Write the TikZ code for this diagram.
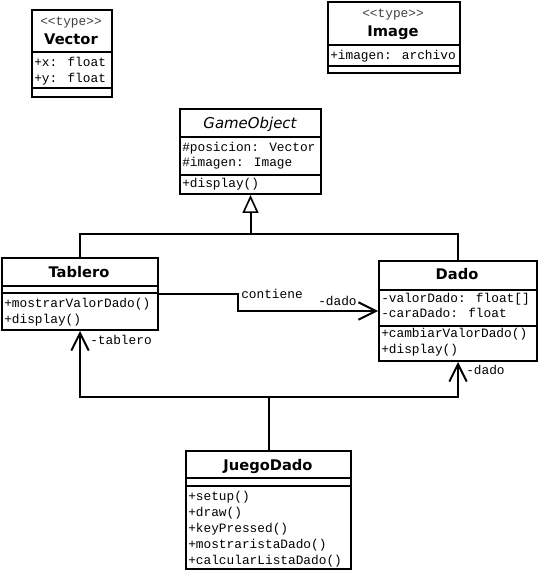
\documentclass[tikz,border=0pt]{standalone}
\usepackage{fontspec}
\setmainfont{DejaVu Sans}
\newfontfamily\monof{Liberation Mono}
\usetikzlibrary{arrows.meta}
\begin{document}
\begin{tikzpicture}[x=0.75pt,y=-0.75pt,
  cls/.style={draw, line width=1.5pt, inner sep=0pt, anchor=north west},
  divider/.style={line width=1.5pt},
  mono/.style={font=\monof\fontsize{9.6}{11}\selectfont, inner sep=0pt, anchor=west, text height=6.5pt, text depth=1.5pt},
  stereo/.style={mono, anchor=center, text=black!75},
  ctitle/.style={font=\bfseries\fontsize{11}{13}\selectfont, inner sep=0pt, anchor=center, text height=8pt, text depth=0pt},
  ititle/.style={font=\itshape\fontsize{11.2}{13}\selectfont, inner sep=0pt, anchor=center, text height=8.1pt, text depth=0pt},
  edge/.style={line width=1.5pt},
  assoc/.style={edge, -{Straight Barb[length=13pt,width=13pt,line width=1.5pt]}},
  gen/.style={edge, -{Triangle[open,length=13.5pt,width=12pt,line width=1.2pt]}}]
\useasboundingbox (0,0) rectangle (537,573);

% Vector
\node[cls, minimum width=60pt, minimum height=65.25pt] (vec) at (31,9) {};
\draw[divider] (vec.west |- 0,52) -- (vec.east |- 0,52);
\draw[divider] (vec.west |- 0,88) -- (vec.east |- 0,88);
\node[stereo] (vecst) at (71,22) {<<type>>};
\node[ctitle] (vect) at (71,39) {Vector};
\node[mono] (veca1) at (34,63) {+x: float};
\node[mono] (veca2) at (34,79) {+y: float};

% Image
\node[cls, minimum width=99pt, minimum height=53.25pt] (img) at (327,1) {};
\draw[divider] (img.west |- 0,45) -- (img.east |- 0,45);
\draw[divider] (img.west |- 0,66) -- (img.east |- 0,66);
\node[stereo] (imgst) at (393,14) {<<type>>};
\node[ctitle] (imgt) at (393,31) {Image};
\node[mono] (imga1) at (330,56) {+imagen: archivo};

% GameObject
\node[cls, minimum width=105.75pt, minimum height=63.75pt] (go) at (179,108) {};
\draw[divider] (go.west |- 0,137) -- (go.east |- 0,137);
\draw[divider] (go.west |- 0,175) -- (go.east |- 0,175);
\node[ititle] (got) at (250,123) {GameObject};
\node[mono] (goa1) at (182,148) {\#posicion: Vector};
\node[mono] (goa2) at (182,163) {\#imagen: Image};
\node[mono] (gom1) at (182,184) {+display()};

% Tablero
\node[cls, minimum width=117pt, minimum height=54pt] (tab) at (1,257) {};
\draw[divider] (tab.west |- 0,286) -- (tab.east |- 0,286);
\draw[divider] (tab.west |- 0,293) -- (tab.east |- 0,293);
\node[ctitle] (tabt) at (79,272) {Tablero};
\node[mono] (tabm1) at (4,304) {+mostrarValorDado()};
\node[mono] (tabm2) at (4,320) {+display()};

% Dado
\node[cls, minimum width=118.5pt, minimum height=75pt] (dado) at (378,260) {};
\draw[divider] (dado.west |- 0,290) -- (dado.east |- 0,290);
\draw[divider] (dado.west |- 0,326) -- (dado.east |- 0,326);
\node[ctitle] (dadot) at (457,274) {Dado};
\node[mono] (dadoa1) at (381,299) {-valorDado: float[]};
\node[mono] (dadoa2) at (381,314) {-caraDado: float};
\node[mono] (dadom1) at (381,334) {+cambiarValorDado()};
\node[mono] (dadom2) at (381,350) {+display()};

% JuegoDado
\node[cls, minimum width=123.75pt, minimum height=88.5pt] (jd) at (185,450) {};
\draw[divider] (jd.west |- 0,478) -- (jd.east |- 0,478);
\draw[divider] (jd.west |- 0,486) -- (jd.east |- 0,486);
\node[ctitle] (jdt) at (268,465) {JuegoDado};
\node[mono] (jdm1) at (188,497) {+setup()};
\node[mono] (jdm2) at (188,513) {+draw()};
\node[mono] (jdm3) at (188,529) {+keyPressed()};
\node[mono] (jdm4) at (188,545) {+mostraristaDado()};
\node[mono] (jdm5) at (188,561) {+calcularListaDado()};

% inheritance
\coordinate (hm) at (go.south |- 0,234);
\draw[gen] (tab.north) |- (hm) -- (go.south);
\draw[edge] (dado.north) |- (hm);

% contiene association
\coordinate (k1) at (238,0 |- tab.east);
\draw[assoc] (tab.east) -- (k1) |- (dado.west);
\node[mono] (lcont) at (241,295) {contiene};
\node[mono] (ldado1) at (318,302) {-dado};

% JuegoDado associations
\coordinate (jm) at (jd.north |- 0,397);
\draw[edge] (jd.north) -- (jm);
\draw[assoc] (jm) -| (tab.south);
\draw[assoc] (jm) -| (dado.south);
\node[mono] (ltab) at (90,341) {-tablero};
\node[mono] (ldado2) at (466,371) {-dado};
\end{tikzpicture}
\end{document}
